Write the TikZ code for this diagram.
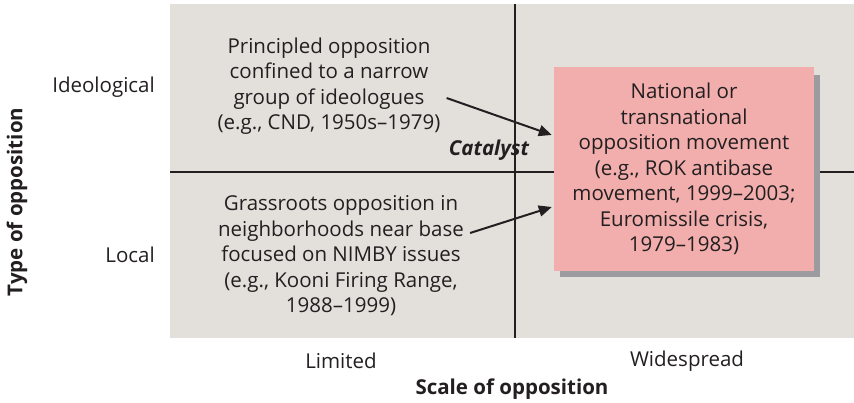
\documentclass[tikz,border=0pt]{standalone}
\usepackage{fontspec}
\setmainfont{Open Sans}
\usetikzlibrary{arrows.meta, positioning}
\definecolor{panelgrey}{HTML}{E3E0DC}
\definecolor{boxpink}{HTML}{F1AEAD}
\definecolor{shadowgrey}{HTML}{9C9B9F}
\definecolor{inkdark}{HTML}{231F20}

\begin{document}
\begin{tikzpicture}[
    x=1pt, y=-1pt,
    every node/.style={text=inkdark},
    body/.style={font=\fontsize{20.5}{25.5}\selectfont, align=center, inner sep=0pt},
    axislabel/.style={font=\fontsize{20.5}{24}\selectfont, inner sep=0pt},
    axistitle/.style={font=\fontsize{20.5}{24}\selectfont\bfseries, inner sep=0pt},
    movebox/.style={body, fill=boxpink, minimum width=260pt, minimum height=204pt},
    arr/.style={-{Triangle[length=13pt, width=11pt]}, line width=2pt, draw=inkdark},
]
\useasboundingbox (0,0) rectangle (854,403);

% Panel and quadrant lines
\fill[panelgrey] (170,4) rectangle (854,338);
\draw[line width=1.1pt, inkdark] (515,4) -- (515,338);
\draw[line width=1.1pt, inkdark] (170,172) -- (854,172);

% Quadrant texts
\node[body] (ideo) at (329,86) {Principled opposition\\confined to a narrow\\group of ideologues\\(e.g., CND, 1950s--1979)};
\node[body] (local) at (341,256) {Grassroots opposition in\\neighborhoods near base\\focused on NIMBY issues\\(e.g., Kooni Firing Range,\\1988--1999)};

% National box with shadow
\fill[shadowgrey] (560,75) rectangle (820,277);
\node[movebox] (natl) at (684,169) {National or\\transnational\\opposition movement\\(e.g., ROK antibase\\movement, 1999--2003;\\Euromissile crisis,\\1979--1983)};

% Arrows into the box
\draw[arr] ([xshift=6pt, yshift=-12pt]ideo.east) -- ([xshift=-2pt, yshift=34pt]natl.west);
\draw[arr] ([xshift=6pt, yshift=23pt]local.east) -- ([xshift=-2pt, yshift=-38pt]natl.west);
\node[axistitle, font=\fontsize{20.5}{24}\selectfont\bfseries\itshape] (cat) at (489,150) {Catalyst};

% Axis labels
\node[axislabel, anchor=east] (ideolbl) at (155,87) {Ideological};
\node[axislabel, anchor=east] (loclbl) at (155,255) {Local};
\node[axistitle, rotate=90] (ytitle) at (17,202) {Type of opposition};
\node[axislabel] (limlbl) at (341,361) {Limited};
\node[axislabel] (widelbl) at (687,361) {Widespread};
\node[axistitle] (xtitle) at (512,389) {Scale of opposition};

\end{tikzpicture}
\end{document}
